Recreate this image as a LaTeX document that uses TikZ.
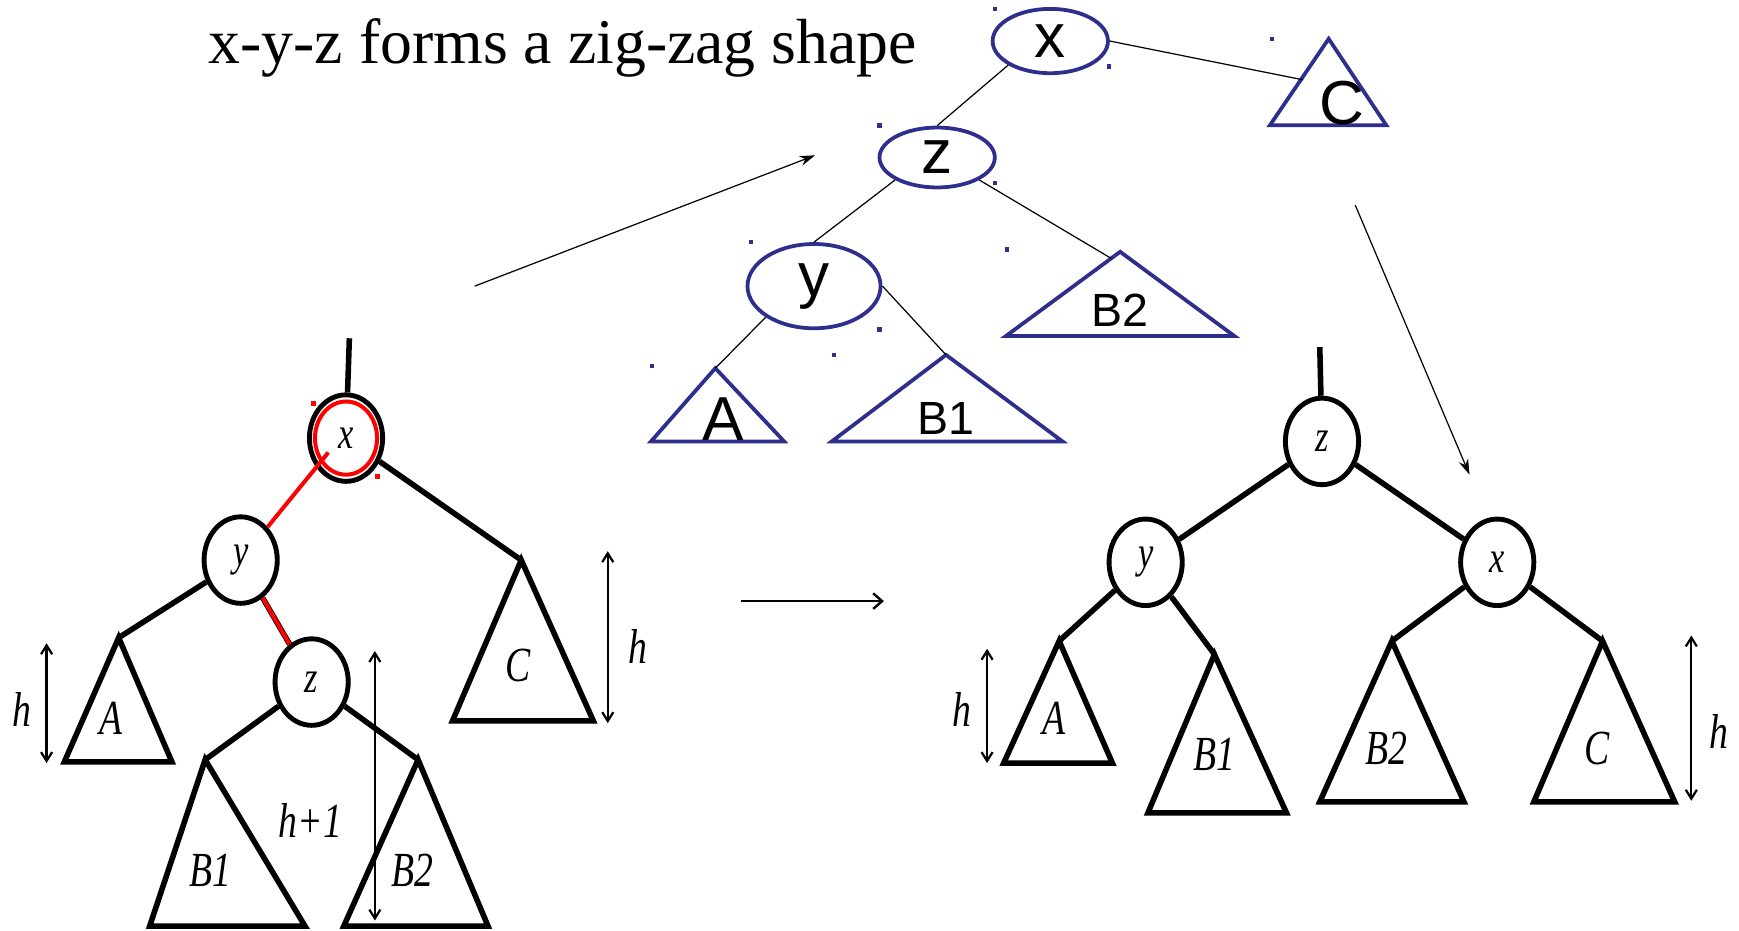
\documentclass[tikz,border=0pt]{standalone}
\usepackage{graphicx}
\usepackage{fontspec}
\setmainfont{Liberation Serif}
\newfontfamily\arialfont{Liberation Sans}
\usetikzlibrary{shapes.geometric,arrows.meta}
\definecolor{navy}{RGB}{46,46,140}
\newcommand{\tall}[1]{\scalebox{1}[1.3]{#1}}
\tikzset{
  bnode/.style={draw=navy,line width=3.4pt,ellipse,inner sep=0pt,font=\arialfont\fontsize{56}{56}\selectfont},
  bline/.style={draw=navy,line width=3.4pt},
  blab/.style={font=\arialfont\fontsize{42}{42}\selectfont},
  thin/.style={line width=1.1pt},
  knode/.style={draw,ellipse,line width=4.4pt,minimum width=66pt,minimum height=78pt,inner sep=0pt,font=\itshape\fontsize{31}{31}\selectfont},
  kline/.style={line width=5pt,line join=miter},
  klab/.style={font=\itshape\fontsize{34}{34}\selectfont},
  harrow/.style={line width=2pt,{Straight Barb[length=8pt,width=10pt]}-{Straight Barb[length=8pt,width=10pt]}},
  handle/.style={fill=navy,minimum size=4pt,inner sep=0pt}
}
\begin{document}
\begin{tikzpicture}[x=1pt,y=-1pt]
    \useasboundingbox (0,0) rectangle (1568,839);
    \node[anchor=base west,font=\fontsize{57.5}{57.5}\selectfont,inner sep=0pt] (title) at (188,57) {x-y-z forms a zig-zag shape};

    % zig-zag tree (blue)
    \node[bnode,minimum width=104pt,minimum height=58pt] (Bx) at (947,37) {x};
    \node[bnode,minimum width=104pt,minimum height=54pt] (Bz) at (845,142) {z};
    \node[bnode,minimum width=120pt,minimum height=76pt] (By) at (734,258) {y};
    \coordinate (BC) at (1198,35);
    \coordinate (BB2) at (1010,227);
    \coordinate (BA) at (645,332);
    \coordinate (BB1) at (853,320);
    \coordinate (BCj) at (1175,72);
    \coordinate (BB2j) at (1002,233);
    \draw[bline] (BC) -- (1145,113) -- (1250,113) -- cycle;
    \draw[bline] (BB2) -- (907,303) -- (1113,303) -- cycle;
    \draw[bline] (BA) -- (587,398) -- (707,398) -- cycle;
    \draw[bline] (BB1) -- (750,398) -- (958,398) -- cycle;
    \node[font=\arialfont\fontsize{56}{56}\selectfont] (BClab) at (1210,93) {C};
    \node[font=\arialfont\fontsize{56}{56}\selectfont] (BAlab) at (652,378) {A};
    \node[blab] (BB2lab) at (1010,280) {B2};
    \node[blab] (BB1lab) at (853,377) {B1};
    \draw[thin] (Bx.south west) -- (Bz.north);
    \draw[thin] (Bx.east) -- (BCj);
    \draw[thin] (Bz.south west) -- (By.north);
    \draw[thin] (Bz.south east) -- (BB2j);
    \draw[thin] (By.south west) -- (BA);
    \draw[thin] (By.east) -- (BB1);
    \foreach \p in {(897,8),(1000,60),(1147,35),(793,113),(897,165),(677,218),(908,225),(793,297),(752,320),(588,330)}
        \node[handle] at \p {};

    % arrows between the trees
    \coordinate (arrS1) at (428,258);
    \coordinate (arrE1) at (735,140);
    \coordinate (arrS2) at (1222,185);
    \coordinate (arrE2) at (1325,428);
    \draw[thin,-{Stealth[length=14pt,width=9pt]}] (arrS1) -- (arrE1);
    \draw[thin,-{Stealth[length=14pt,width=9pt]}] (arrS2) -- (arrE2);
    \coordinate (midS) at (668,542);
    \coordinate (midE) at (797,542);
    \draw[line width=2.2pt,-{Straight Barb[length=8pt,width=14pt]}] (midS) -- (midE);

    % tree before rotation
    \coordinate (Ltop) at (315,305);
    \node[knode] (Lx) at (312,395) {\tall{x}};
    \node[knode] (Ly) at (217,505) {\tall{y}};
    \node[knode] (Lz) at (281,615) {\tall{z}};
    \coordinate (LA) at (107,575);
    \coordinate (LC) at (470,505);
    \coordinate (LB1) at (185,685);
    \coordinate (LB2) at (377,685);
    \coordinate (Lxin) at (296,408);
    \draw[kline] (LA) -- (58,687) -- (155,687) -- cycle;
    \draw[kline] (LC) -- (408,650) -- (535,650) -- cycle;
    \draw[kline] (LB1) -- (135,835) -- (275,835) -- cycle;
    \draw[kline] (LB2) -- (310,835) -- (440,835) -- cycle;
    \draw[kline] (Ltop) -- (Lx);
    \draw[kline] (Lx) -- (LC);
    \draw[kline] (Ly) -- (LA);
    \draw[kline] (Ly) -- (Lz);
    \draw[kline] (Lz) -- (LB1);
    \draw[kline] (Lz) -- (LB2);
    \draw[red,line width=3.6pt] (Lx) ellipse (28 and 33);
    \draw[red,line width=3.6pt] (Lxin) -- (Ly);
    \draw[red,line width=3.6pt] (Ly) -- (Lz);
    \node[fill=red,minimum size=4.5pt,inner sep=0pt] at (283,364) {};
    \node[fill=red,minimum size=4.5pt,inner sep=0pt] at (340,430) {};
    \node[klab] (LAlab) at (100,648) {\tall{A}};
    \node[klab] (LClab) at (467,600) {\tall{C}};
    \node[klab] (LB1lab) at (190,785) {\tall{B1}};
    \node[klab] (LB2lab) at (372,785) {\tall{B2}};
    \draw[harrow] (42,580) -- (42,688);
    \node[klab] (h1) at (20,640) {\tall{h}};
    \draw[harrow] (548,497) -- (548,652);
    \node[klab] (h2) at (575,583) {\tall{h}};
    \draw[harrow] (338,587) -- (338,830);
    \node[klab] (h3) at (280,740) {\tall{h+1}};

    % tree after rotation
    \coordinate (Rtop) at (1190,313);
    \node[knode] (Rz) at (1192,398) {\tall{z}};
    \node[knode] (Ry) at (1033,507) {\tall{y}};
    \node[knode] (Rx) at (1350,507) {\tall{x}};
    \coordinate (RA) at (955,578);
    \coordinate (RB1) at (1095,590);
    \coordinate (RB2) at (1255,578);
    \coordinate (RC) at (1445,578);
    \draw[kline] (RA) -- (905,688) -- (1003,688) -- cycle;
    \draw[kline] (RB1) -- (1035,733) -- (1160,733) -- cycle;
    \draw[kline] (RB2) -- (1190,723) -- (1320,723) -- cycle;
    \draw[kline] (RC) -- (1383,723) -- (1510,723) -- cycle;
    \draw[kline] (Rtop) -- (Rz);
    \draw[kline] (Rz) -- (Ry);
    \draw[kline] (Rz) -- (Rx);
    \draw[kline] (Ry) -- (RA);
    \draw[kline] (Ry) -- (RB1);
    \draw[kline] (Rx) -- (RB2);
    \draw[kline] (Rx) -- (RC);
    \node[klab] (RAlab) at (950,648) {\tall{A}};
    \node[klab] (RB1lab) at (1095,680) {\tall{B1}};
    \node[klab] (RB2lab) at (1250,675) {\tall{B2}};
    \node[klab] (RClab) at (1440,675) {\tall{C}};
    \draw[harrow] (890,585) -- (890,688);
    \node[klab] (h4) at (867,640) {\tall{h}};
    \draw[harrow] (1525,573) -- (1525,722);
    \node[klab] (h5) at (1550,660) {\tall{h}};
\end{tikzpicture}
\end{document}
